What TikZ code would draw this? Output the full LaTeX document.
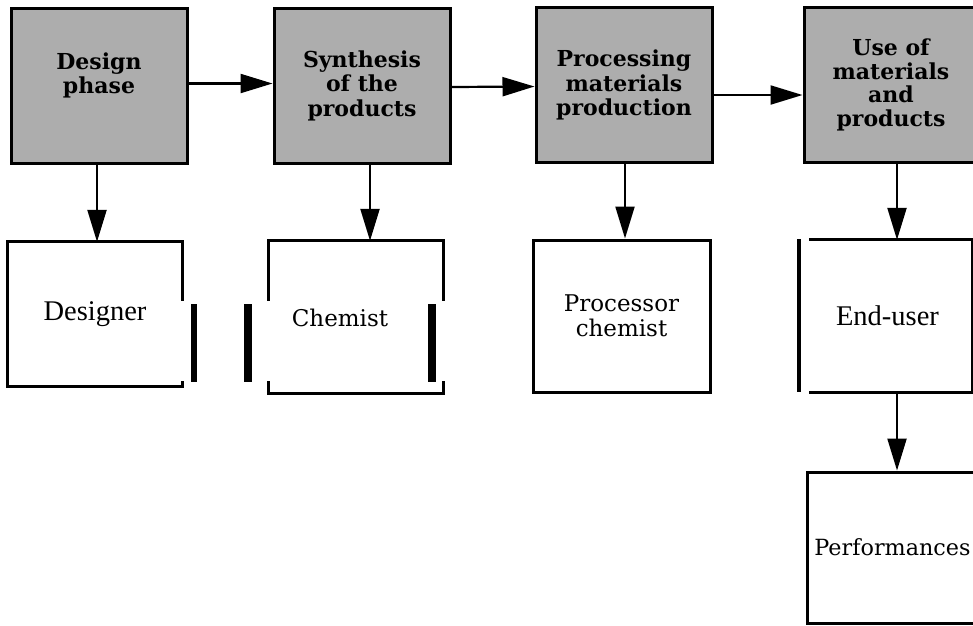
\documentclass[tikz,border=0pt]{standalone}
\usepackage{fontspec}
\setmainfont{DejaVu Serif}
\newfontfamily\romanfont{Liberation Serif}
\usetikzlibrary{arrows.meta}
\definecolor{screen}{gray}{0.68}
\tikzset{
  stage/.style={draw, line width=3pt, fill=screen, inner sep=0pt,
    minimum width=176pt, minimum height=155pt, align=center,
    font=\bfseries\fontsize{22}{24.5}\selectfont},
  role/.style={inner sep=0pt, align=center},
  boxed/.style={role, draw, line width=3pt},
  edge/.style={line width=3pt, line cap=rect},
  flow/.style={line width=2.2pt, -{Triangle[length=32pt,width=19pt]}},
  slabtext/.style={font=\fontsize{23}{25}\selectfont},
  romantext/.style={font=\romanfont\fontsize{28.5}{30}\selectfont},
}
\begin{document}
\begin{tikzpicture}[x=1pt,y=-1pt]
\useasboundingbox (0,0) rectangle (973,625);
\clip (0,0) rectangle (973,625);

% process stages
\node[stage] (g1) at (99,85.5) {Design\\phase\\\mbox{}};
\node[stage] (g2) at (362,85.5) {Synthesis\\of the\\products};
\node[stage] (g3) at (624,85) {Processing\\materials\\production};
\node[stage, minimum width=174pt, font=\bfseries\fontsize{22}{23.5}\selectfont] (g4) at (891,85) {Use of\\materials\\and\\products};

% actors
\node[role, romantext, minimum width=174pt, minimum height=144pt] (d) at (95,314) {Designer};
\node[role, minimum width=174pt, minimum height=152pt,
  label={[name=ctext, slabtext, xshift=-16pt, yshift=-1pt]center:Chemist}] (c) at (356,317) {};
\node[boxed, slabtext, minimum width=177pt, minimum height=152pt] (p) at (621.5,316) {Processor\\chemist};
\node[role, romantext, minimum width=161pt, minimum height=152pt] (e) at (891.5,316) {\hspace*{-8pt}End-user};
\node[boxed, font=\fontsize{22.3}{25}\selectfont, minimum width=171pt, minimum height=151pt] (f) at (892.5,547.5) {Performances};

% outline of the Designer box
\draw[edge] (d.north east) -- (d.north west) -- (d.south west) -- (d.south east);
\draw[edge] (d.north east) -- ++(0,58);
\draw[edge] (d.south east) -- ++(0,-4);
\fill ([xshift=9pt,yshift=-62pt]d.north east) rectangle ++(6,78);

% outline of the Chemist box
\draw[edge] (c.north west) -- (c.north east);
\draw[edge] (c.south west) -- (c.south east);
\draw[edge] (c.north west) -- ++(0,59);
\draw[edge] (c.north east) -- ++(0,59);
\draw[edge] (c.south west) -- ++(0,-11);
\draw[edge] (c.south east) -- ++(0,-11);
\fill ([xshift=-25pt,yshift=-63pt]c.north west) rectangle ++(8,78);
\fill ([xshift=-15pt,yshift=-63pt]c.north east) rectangle ++(8,78);

% outline of the End-user box
\draw[edge] (e.north west) -- (e.north east) -- (e.south east) -- (e.south west);
\fill ([xshift=-14pt,yshift=1pt]e.north west) rectangle ++(4,153);

% flow between stages
\draw[flow] ([yshift=2pt]g1.east) -- ([yshift=2pt]g2.west);
\draw[flow] ([yshift=-1.5pt]g2.east) -- ([yshift=-1.5pt]g3.west);
\draw[flow] ([yshift=-10pt]g3.east) -- ([yshift=-10pt]g4.west);

% stage to actor
\draw[flow] ([xshift=-2pt]g1.south) -- ([xshift=-2pt]g1.south |- d.north);
\draw[flow] ([xshift=8pt]g2.south) -- ([xshift=8pt]g2.south |- c.north);
\draw[flow] ([xshift=1pt]g3.south) -- ([xshift=1pt]g3.south |- p.north);
\draw[flow] ([xshift=6pt]g4.south) -- ([xshift=6pt]g4.south |- e.north);
\draw[flow] ([xshift=5.5pt]e.south) -- ([xshift=5.5pt]e.south |- f.north);
\end{tikzpicture}
\end{document}
